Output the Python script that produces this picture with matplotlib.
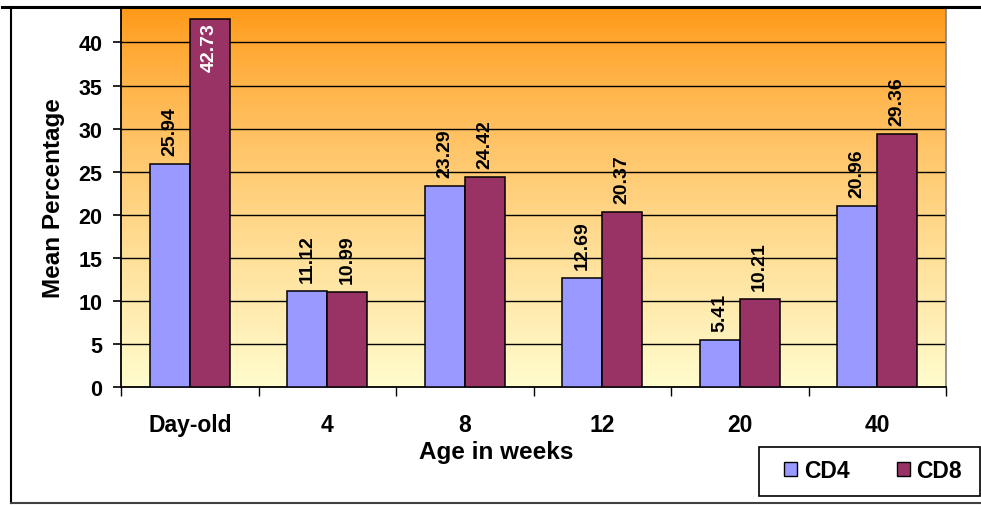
import numpy as np
import matplotlib
matplotlib.use("Agg")
import matplotlib.pyplot as plt
from matplotlib.lines import Line2D
from matplotlib.patches import Patch, Rectangle

plt.rcParams['font.family'] = ['Liberation Sans', 'DejaVu Sans']

# mean percentages per age group
ages = ["Day-old", "4", "8", "12", "20", "40"]
cd4 = [25.94, 11.12, 23.29, 12.69, 5.41, 20.96]
cd8 = [42.73, 10.99, 24.42, 20.37, 10.21, 29.36]
series_names = ["CD4", "CD8"]
yticks = [0, 5, 10, 15, 20, 25, 30, 35, 40]

CD4_COLOR = "#9999FF"
CD8_COLOR = "#993366"
YMAX = 44

fig = plt.figure(figsize=(9.81, 5.06), dpi=100)
W, H = 981, 506
ax = fig.add_axes([121 / W, 1 - 388 / H, (946 - 121) / W, (388 - 9) / H])

# orange -> pale yellow background
top = np.array([255, 152, 22]) / 255
bot = np.array([255, 252, 205]) / 255
t = np.linspace(0, 1, 256)[:, None] ** 0.8
grad = (top * (1 - t) + bot * t)[:, None, :]
ax.imshow(grad, extent=(-0.5, 5.5, 0, YMAX), aspect='auto', zorder=0,
          interpolation='bilinear')

x = np.arange(len(ages))
bw = 0.29
b1 = ax.bar(x - bw / 2, cd4, bw, color=CD4_COLOR, edgecolor='black', linewidth=1.1, zorder=3)
b2 = ax.bar(x + bw / 2, cd8, bw, color=CD8_COLOR, edgecolor='black', linewidth=1.1, zorder=3)

for bars, vals in ((b1, cd4), (b2, cd8)):
    for rect, v in zip(bars, vals):
        cx = rect.get_x() + rect.get_width() / 2
        if v > 38:
            # too tall for a label above, put it inside the bar
            ax.annotate(f"{v:.2f}", (cx, v), xytext=(0, -2.5), textcoords='offset points',
                        rotation=90, ha='center', va='top', fontsize=14,
                        fontweight='bold', color='white', zorder=5)
        else:
            ax.annotate(f"{v:.2f}", (cx, v), xytext=(0, 6.5), textcoords='offset points',
                        rotation=90, ha='center', va='bottom', fontsize=14,
                        fontweight='bold', color='black', zorder=5)

ax.set_xlim(-0.5, 5.5)
ax.set_ylim(0, YMAX)
ax.set_yticks(yticks)
for yv in yticks[1:]:
    ax.axhline(yv, color='black', linewidth=1.0, zorder=1)

# category boundaries get tick marks, labels sit in the middle
ax.set_xticks(np.arange(-0.5, 6.0, 1.0))
ax.set_xticklabels([])
ax.set_xticks(x, minor=True)
ax.set_xticklabels(ages, minor=True, fontsize=16.5, fontweight='bold')
ax.tick_params(axis='x', which='major', length=6.5, width=1, direction='out')
ax.tick_params(axis='x', which='minor', length=0, pad=19)
ax.tick_params(axis='y', length=6, width=1.2, pad=7.5, labelsize=15.5)
for lab in ax.get_yticklabels():
    lab.set_fontweight('bold')

ax.spines['top'].set_visible(False)
ax.spines['right'].set_color('#808080')
ax.spines['right'].set_linewidth(1.2)
ax.spines['left'].set_linewidth(1.3)
ax.spines['bottom'].set_linewidth(1.3)

ax.set_ylabel("Mean Percentage", fontsize=17.5, fontweight='bold')
ax.yaxis.set_label_coords(-0.068, 0.5)
ax.set_xlabel("Age in weeks", fontsize=17.5, fontweight='bold')
ax.xaxis.set_label_coords(0.455, -0.14)

# legend box drawn separately so the entries can be placed freely inside it
fig.add_artist(Rectangle((759 / W, 1 - 497 / H), (980 - 759) / W, (497 - 448) / H,
                         transform=fig.transFigure, facecolor='white',
                         edgecolor='black', linewidth=1.2))
handles = [Patch(facecolor=CD4_COLOR, edgecolor='black', linewidth=1.0),
           Patch(facecolor=CD8_COLOR, edgecolor='black', linewidth=1.0)]
leg = fig.legend(handles, series_names, loc='center left', ncol=2,
                 bbox_to_anchor=(784 / W, 1 - 472 / H), frameon=False,
                 prop={'size': 16.5, 'weight': 'bold'}, handlelength=0.57, handleheight=0.57,
                 handletextpad=0.3, borderpad=0, borderaxespad=0, columnspacing=2.05)

# outer chart frame
fig.add_artist(Line2D([2 / W, 1], [1 - 8 / H] * 2, color='black', linewidth=2.2))
fig.add_artist(Line2D([11 / W] * 2, [1 - 8 / H, 1 - 504 / H], color='black', linewidth=1.5))
fig.add_artist(Line2D([11 / W, 1], [1 - 504 / H] * 2, color='#404040', linewidth=1.5))

fig.savefig("out.png", dpi=100, facecolor='white')
